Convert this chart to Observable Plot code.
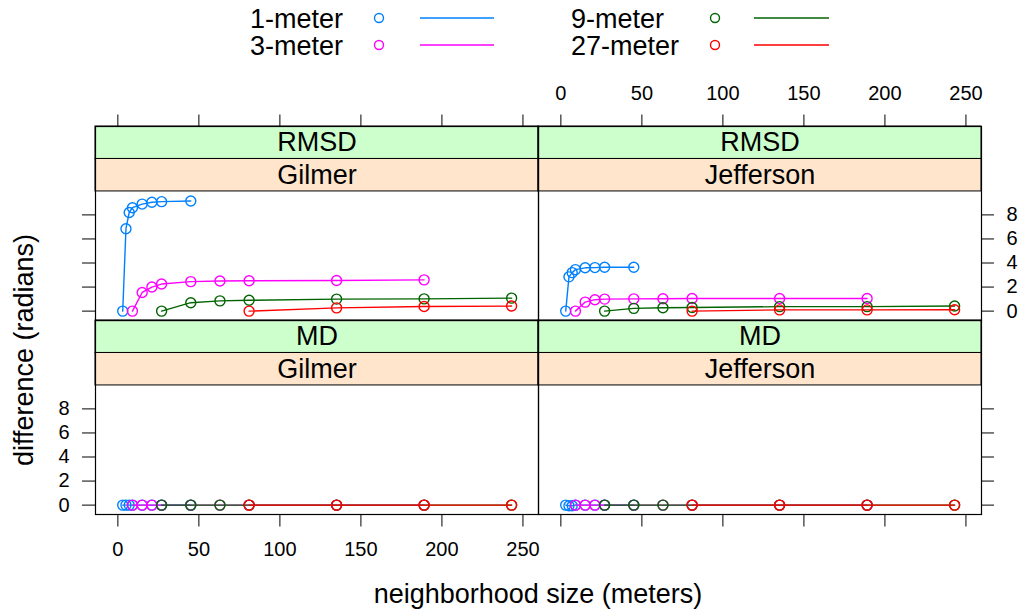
<!DOCTYPE html>
<html><head><meta charset="utf-8">
<script src="https://cdn.jsdelivr.net/npm/d3@7"></script>
<script src="https://cdn.jsdelivr.net/npm/@observablehq/plot@0.6"></script>
<style>
html,body{margin:0;padding:0;background:#fff;}
#wrap{position:relative;width:1023px;height:613px;font-family:"Liberation Sans",Arial,sans-serif;}
#chart{position:absolute;left:0;top:0;}
#overlay{position:absolute;left:0;top:0;pointer-events:none;}
</style></head><body>
<div id="wrap"><div id="chart"></div></div>
<script>
// ---- data ----
const seriesNames = ["1-meter", "3-meter", "9-meter", "27-meter"];
const seriesColors = ["#0080ff", "#ff00ff", "#006400", "#ff0000"];
const sites = ["Gilmer", "Jefferson"];
const stats = ["RMSD", "MD"];

const sizes1 = [3, 5, 7, 9, 15, 21, 27, 45];
const sizes3 = [9, 15, 21, 27, 45, 63, 81, 135, 189];
const sizes9 = [27, 45, 63, 81, 135, 189, 243];
const sizes27 = [81, 135, 189, 243];

const gilmerRMSD1 = [0, 6.85, 8.2, 8.6, 8.9, 9.05, 9.1, 9.15];
const gilmerRMSD3 = [0, 1.55, 2.0, 2.25, 2.45, 2.5, 2.52, 2.55, 2.6];
const gilmerRMSD9 = [0, 0.7, 0.85, 0.9, 1.0, 1.02, 1.08];
const gilmerRMSD27 = [0, 0.27, 0.38, 0.42];

const jeffersonRMSD1 = [0, 2.85, 3.2, 3.45, 3.6, 3.62, 3.65, 3.65];
const jeffersonRMSD3 = [0, 0.75, 0.95, 1.0, 1.02, 1.03, 1.05, 1.05, 1.05];
const jeffersonRMSD9 = [0, 0.23, 0.28, 0.3, 0.37, 0.37, 0.42];
const jeffersonRMSD27 = [0, 0.1, 0.1, 0.12];

const gilmerMD1 = [0, 0, 0, 0, 0, 0, 0, 0];
const gilmerMD3 = [0, 0, 0, 0, 0, 0, 0, 0, 0];
const gilmerMD9 = [0, 0, 0, 0, 0, 0, 0];
const gilmerMD27 = [0, 0, 0, 0];

const jeffersonMD1 = [0, -0.05, -0.05, 0, 0, 0, 0, 0];
const jeffersonMD3 = [0, 0, 0, 0, 0, 0, 0, 0, 0];
const jeffersonMD9 = [0, 0, 0, 0, 0, 0, 0];
const jeffersonMD27 = [0, 0, 0, 0];

const xTicks = [0, 50, 100, 150, 200, 250];
const yTicks = [0, 2, 4, 6, 8];
const xTitle = "neighborhood size (meters)";
const yTitle = "difference (radians)";

// ---- build table ----
const sizesBySeries = [sizes1, sizes3, sizes9, sizes27];
const valueTable = {
  "Gilmer|RMSD": [gilmerRMSD1, gilmerRMSD3, gilmerRMSD9, gilmerRMSD27],
  "Jefferson|RMSD": [jeffersonRMSD1, jeffersonRMSD3, jeffersonRMSD9, jeffersonRMSD27],
  "Gilmer|MD": [gilmerMD1, gilmerMD3, gilmerMD9, gilmerMD27],
  "Jefferson|MD": [jeffersonMD1, jeffersonMD3, jeffersonMD9, jeffersonMD27]
};
const rows = [];
const panels = [];
for (const stat of stats) for (const site of sites) {
  panels.push({site, stat});
  valueTable[site + "|" + stat].forEach((vals, i) => {
    vals.forEach((v, j) => rows.push({site, stat, series: seriesNames[i], size: sizesBySeries[i][j], value: v}));
  });
}

// ---- layout ----
const xDomain = [-13.8, 259.6];
const yLo = -0.78, panelTop = 9.95, stripH = 2.7;

const seriesMarks = [];
for (const s of seriesNames) {
  const d = rows.filter(r => r.series === s);
  seriesMarks.push(Plot.line(d, {x: "size", y: "value", stroke: "series", fx: "site", fy: "stat", strokeWidth: 1.4}));
  seriesMarks.push(Plot.dot(d, {x: "size", y: "value", stroke: "series", fx: "site", fy: "stat", r: 5, strokeWidth: 1.4, fill: "none"}));
}

const axFont = 20;
const chart = Plot.plot({
  width: 1023, height: 613,
  marginLeft: 95, marginRight: 42, marginTop: 126, marginBottom: 99,
  x: {domain: xDomain},
  y: {domain: [yLo, panelTop + 2 * stripH]},
  fx: {domain: sites, padding: 0, axis: null},
  fy: {domain: stats, padding: 0, axis: null},
  color: {domain: seriesNames, range: seriesColors},
  style: {fontFamily: "Liberation Sans, Arial, sans-serif", fontSize: "20px", color: "black", background: "white", overflow: "visible"},
  marks: [
    Plot.rect(panels, {fx: "site", fy: "stat", y1: panelTop + stripH, y2: panelTop + 2 * stripH, fill: "#ccffcc", stroke: "black"}),
    Plot.rect(panels, {fx: "site", fy: "stat", y1: panelTop, y2: panelTop + stripH, fill: "#ffe5cc", stroke: "black"}),
    Plot.text(panels, {fx: "site", fy: "stat", text: "stat", y: panelTop + 1.5 * stripH, fontSize: 27, fill: "black"}),
    Plot.text(panels, {fx: "site", fy: "stat", text: "site", y: panelTop + 0.5 * stripH, fontSize: 27, fill: "black"}),
    ...seriesMarks,
    Plot.frame({stroke: "black", strokeWidth: 1.2}),
    Plot.axisX({ticks: xTicks, anchor: "bottom", facetAnchor: "bottom-left", tickSize: 12.5, tickPadding: 15, fontSize: axFont, label: null}),
    Plot.axisX({ticks: xTicks, anchor: "bottom", facetAnchor: "bottom-right", tickSize: 12.5, tickFormat: () => "", label: null}),
    Plot.axisX({ticks: xTicks, anchor: "top", facetAnchor: "top-right", tickSize: 12.5, tickPadding: 14, fontSize: axFont, label: null}),
    Plot.axisX({ticks: xTicks, anchor: "top", facetAnchor: "top-left", tickSize: 12.5, tickFormat: () => "", label: null}),
    Plot.axisY({ticks: yTicks, anchor: "right", facetAnchor: "top-right", tickSize: 12, tickPadding: 13, fontSize: axFont, label: null}),
    Plot.axisY({ticks: yTicks, anchor: "left", facetAnchor: "top-left", tickSize: 13, tickFormat: () => "", label: null}),
    Plot.axisY({ticks: yTicks, anchor: "left", facetAnchor: "bottom-left", tickSize: 13, tickPadding: 13, fontSize: axFont, label: null}),
    Plot.axisY({ticks: yTicks, anchor: "right", facetAnchor: "bottom-right", tickSize: 12, tickFormat: () => "", label: null})
  ]
});
document.getElementById("chart").appendChild(chart);

// ---- overlay: legend and axis titles ----
const ov = d3.select("#wrap").append("svg").attr("id", "overlay")
  .attr("width", 1023).attr("height", 613)
  .style("font-family", "Liberation Sans, Arial, sans-serif");
const legendCols = [
  {textX: 250, circleX: 379, lineX1: 420, lineX2: 494},
  {textX: 571, circleX: 715, lineX1: 754, lineX2: 829}
];
const legendRowsY = [18, 45];
seriesNames.forEach((name, i) => {
  const c = legendCols[Math.floor(i / 2)], y = legendRowsY[i % 2];
  ov.append("text").attr("x", c.textX).attr("y", y + 9.5).attr("font-size", 27).attr("fill", "black").text(name);
  ov.append("circle").attr("cx", c.circleX).attr("cy", y).attr("r", 4.5).attr("fill", "none").attr("stroke", seriesColors[i]).attr("stroke-width", 1.4);
  ov.append("line").attr("x1", c.lineX1).attr("x2", c.lineX2).attr("y1", y).attr("y2", y).attr("stroke", seriesColors[i]).attr("stroke-width", 1.4);
});
ov.append("text").attr("x", 538).attr("y", 603).attr("text-anchor", "middle").attr("font-size", 27).attr("fill", "black").text(xTitle);
ov.append("text").attr("transform", "translate(33,350) rotate(-90)").attr("text-anchor", "middle").attr("font-size", 27).attr("fill", "black").text(yTitle);
</script>
</body></html>
